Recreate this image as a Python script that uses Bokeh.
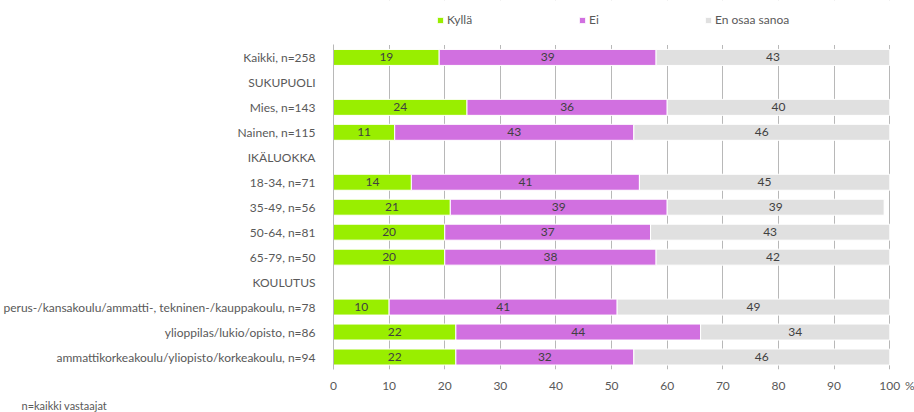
from bokeh.plotting import figure
from bokeh.models import (ColumnDataSource, Legend, LegendItem, Title,
                          Range1d, FixedTicker, BoxAnnotation)
from bokeh.core.properties import value
from bokeh.embed import file_html
from bokeh.resources import INLINE

# Row order from top to bottom (group headings are rows without bars)
rows = [
    "Kaikki, n=258",
    "SUKUPUOLI",
    "Mies, n=143",
    "Nainen, n=115",
    "IKÄLUOKKA",
    "18-34, n=71",
    "35-49, n=56",
    "50-64, n=81",
    "65-79, n=50",
    "KOULUTUS",
    "perus-/kansakoulu/ammatti-, tekninen-/kauppakoulu, n=78",
    "ylioppilas/lukio/opisto, n=86",
    "ammattikorkeakoulu/yliopisto/korkeakoulu, n=94",
]

# Rows that carry bars, with their shares (%)
bar_rows = [
    "Kaikki, n=258",
    "Mies, n=143",
    "Nainen, n=115",
    "18-34, n=71",
    "35-49, n=56",
    "50-64, n=81",
    "65-79, n=50",
    "perus-/kansakoulu/ammatti-, tekninen-/kauppakoulu, n=78",
    "ylioppilas/lukio/opisto, n=86",
    "ammattikorkeakoulu/yliopisto/korkeakoulu, n=94",
]
kylla = [19, 24, 11, 14, 21, 20, 20, 10, 22, 22]
ei = [39, 36, 43, 41, 39, 37, 38, 41, 44, 32]
eos = [43, 40, 46, 45, 39, 43, 42, 49, 34, 46]

series = ["Kyllä", "Ei", "En osaa sanoa"]
colors = ["#99EE00", "#D170E0", "#E0E0E0"]
x_ticks = [0, 10, 20, 30, 40, 50, 60, 70, 80, 90, 100]
unit_label = "%"
footnote = "n=kaikki vastaajat"

TEXT = "#595959"
GRID = "#B8B8B8"
FONT = "Lato"

n = len(rows)
row_pos = {name: n - 1 - i for i, name in enumerate(rows)}
top_room = 1.78               # free rows above the bars, where the legend sits
unit_pos = x_ticks[-1] + 3.6  # where the "%" sign goes on the x axis

p = figure(
    width=914, height=412,
    y_range=Range1d(-0.5, n - 0.5 + top_room),
    x_range=Range1d(0, 104.1),
    output_backend="svg", toolbar_location=None,
    min_border_left=330, min_border_right=2,
    min_border_top=0, min_border_bottom=40,
)

# Vertical grid lines; the strip above the rows is kept clear for the legend
p.ygrid.grid_line_color = None
p.xgrid.ticker = FixedTicker(ticks=x_ticks)
p.xgrid.grid_line_color = GRID
p.add_layout(BoxAnnotation(bottom=n - 0.5, fill_color="white", fill_alpha=1,
                           line_color=None, level="underlay"))
p.outline_line_color = None

# Stack the three answer shares (a bar never runs past 100 %)
left1 = [0] * len(bar_rows)
right1 = kylla
left2 = right1
right2 = [a + b for a, b in zip(kylla, ei)]
left3 = right2
right3 = [min(a + c, 100) for a, c in zip(right2, eos)]

src = ColumnDataSource(dict(
    y=[row_pos[r] for r in bar_rows],
    l1=left1, r1=right1, l2=left2, r2=right2, l3=left3, r3=right3,
    c1=[(a + b) / 2 for a, b in zip(left1, right1)],
    c2=[(a + b) / 2 for a, b in zip(left2, right2)],
    c3=[(a + b) / 2 for a, b in zip(left3, right3)],
    t1=[str(v) for v in kylla],
    t2=[str(v) for v in ei],
    t3=[str(v) for v in eos],
))

renderers = []
for i, (l, r) in enumerate([("l1", "r1"), ("l2", "r2"), ("l3", "r3")]):
    rr = p.hbar(y="y", left=l, right=r, height=0.64, source=src,
                fill_color=colors[i], line_color="white", line_width=1)
    renderers.append(rr)

for c, t in [("c1", "t1"), ("c2", "t2"), ("c3", "t3")]:
    p.text(x=c, y="y", text=t, source=src, text_align="center",
           text_baseline="middle", text_font=value(FONT),
           text_font_size="12px", text_color="#404040")

# Axes
p.xaxis.ticker = FixedTicker(ticks=x_ticks + [unit_pos])
p.xaxis.major_label_overrides = {unit_pos: unit_label}
p.xaxis.axis_line_color = None
p.xaxis.major_tick_line_color = None
p.xaxis.minor_tick_line_color = None
p.xaxis.major_label_standoff = 2
p.xaxis.major_label_text_font = FONT
p.xaxis.major_label_text_font_size = "12px"
p.xaxis.major_label_text_color = TEXT

p.yaxis.ticker = FixedTicker(ticks=list(row_pos.values()))
p.yaxis.major_label_overrides = {pos: name for name, pos in row_pos.items()}
p.yaxis.bounds = (-0.5, n - 0.5)
p.yaxis.axis_line_color = GRID
p.yaxis.major_tick_line_color = None
p.yaxis.minor_tick_line_color = None
p.yaxis.major_label_standoff = 12
p.yaxis.major_label_text_font = FONT
p.yaxis.major_label_text_font_size = "12px"
p.yaxis.major_label_text_color = TEXT

# One legend box per answer, laid out in a row above the bars
legend_x = [103, 245, 371]
for s, r, lx in zip(series, renderers, legend_x):
    lg = Legend(
        items=[LegendItem(label=s, renderers=[r])],
        orientation="horizontal", location=(lx, 342),
        glyph_width=8, glyph_height=8, label_standoff=3,
        label_text_font=FONT, label_text_font_size="12px",
        label_text_color=TEXT, background_fill_alpha=0,
        border_line_color=None, padding=0, margin=0, label_height=8,
    )
    p.add_layout(lg, "center")

p.add_layout(Title(text=footnote, align="left", offset=-312, standoff=2,
                   text_font=FONT, text_font_size="11px",
                   text_font_style="normal", text_color=TEXT), "below")

open("out.html", "w").write(file_html(p, INLINE))
